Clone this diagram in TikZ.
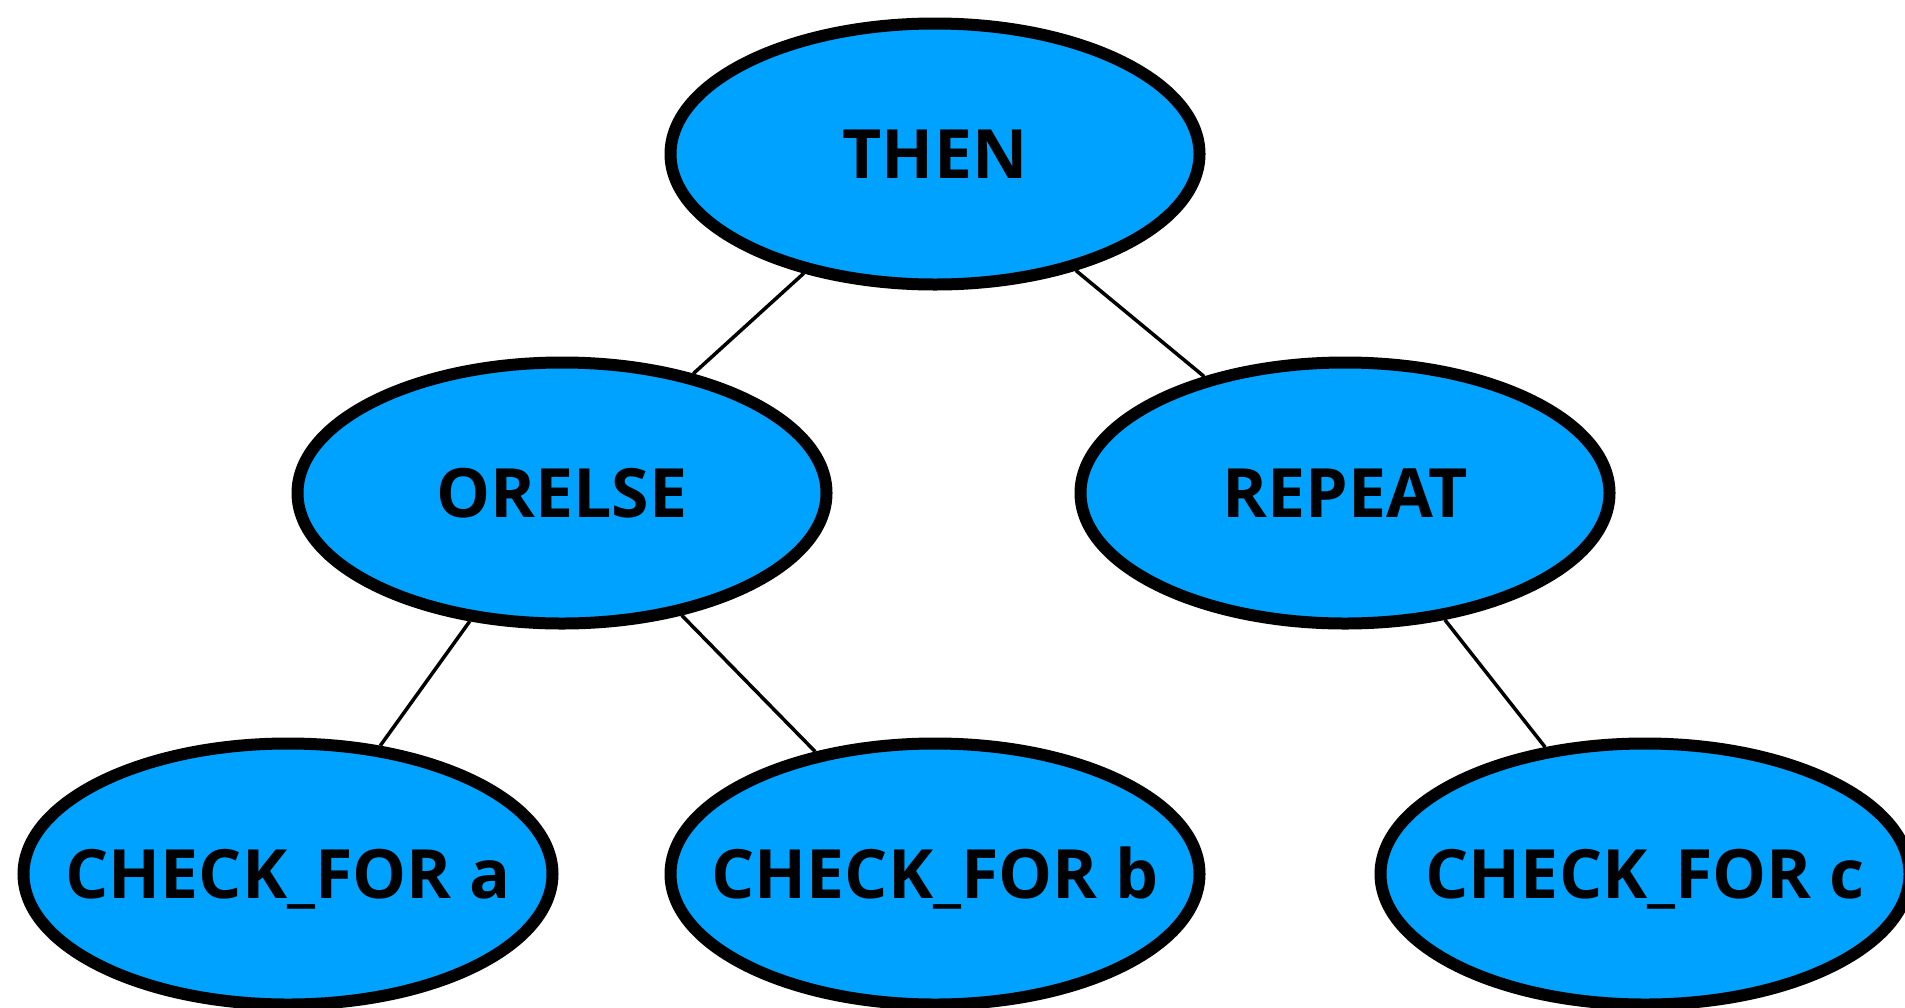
\documentclass[tikz,border=0pt]{standalone}
\usepackage{fontspec}
\setmainfont{Open Sans}
\usetikzlibrary{shapes.geometric}
\definecolor{nodeblue}{RGB}{0,162,255}
\tikzset{
  tnode/.style={ellipse, draw=black, line width=12pt, fill=nodeblue,
    minimum width=529pt, minimum height=261pt, inner sep=0pt,
    label={[font=\fontsize{68}{68}\selectfont\bfseries, text height=48pt, text depth=0pt, inner sep=0pt]center:#1}},
  link/.style={line width=3.5pt, draw=black}
}
\begin{document}
\begin{tikzpicture}[x=1pt,y=-1pt]
\useasboundingbox (0,0) rectangle (1905,1007);
\node[tnode={THEN}] (then) at (935,154) {};
\node[tnode={ORELSE}] (orelse) at (562,493) {};
\node[tnode={REPEAT}] (repeat) at (1345,493) {};
\node[tnode={CHECK\_FOR a}] (a) at (288,874) {};
\node[tnode={CHECK\_FOR b}] (b) at (935,874) {};
\node[tnode={CHECK\_FOR c}] (c) at (1645,874) {};
\draw[link] (then) -- (orelse);
\draw[link] (then) -- (repeat);
\draw[link] (orelse) -- (a);
\draw[link] (orelse) -- (b);
\draw[link] (repeat) -- (c);
\end{tikzpicture}
\end{document}
